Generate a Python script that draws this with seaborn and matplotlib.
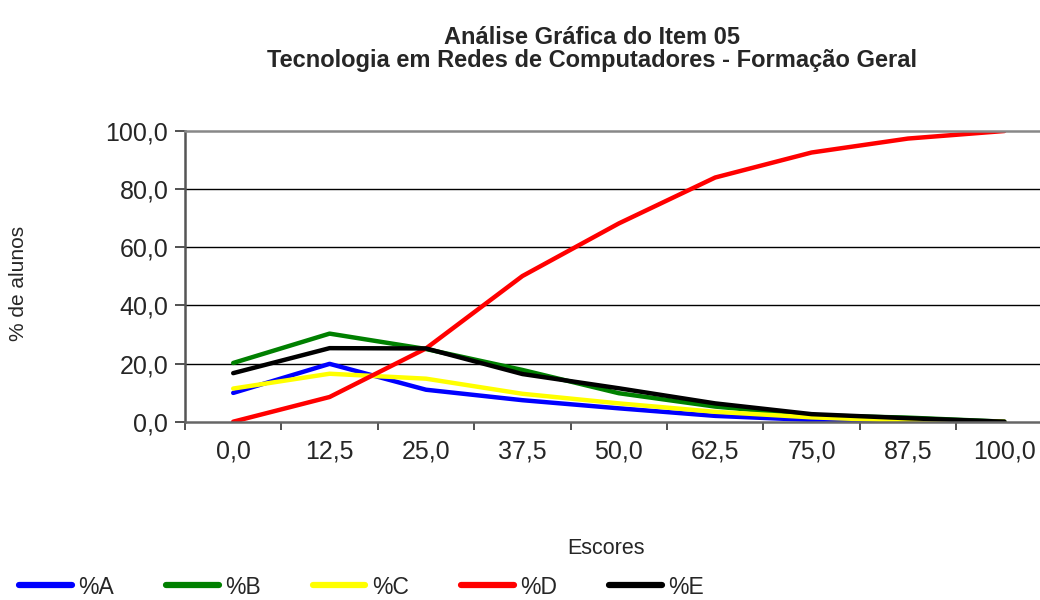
import matplotlib
matplotlib.use("Agg")
import matplotlib.pyplot as plt
import seaborn as sns
import pandas as pd
import numpy as np
from matplotlib.ticker import FixedLocator

# ---- data ----
escores = ["0,0", "12,5", "25,0", "37,5", "50,0", "62,5", "75,0", "87,5", "100,0"]
pct_A = [9.9, 19.9, 11.0, 7.4, 4.6, 2.0, 0.6, 0.0, 0.0]
pct_B = [20.2, 30.3, 25.0, 17.8, 9.8, 5.2, 2.2, 1.4, 0.0]
pct_C = [11.4, 16.5, 14.8, 9.6, 6.3, 3.4, 1.5, 0.3, 0.0]
pct_D = [0.0, 8.5, 25.2, 50.1, 68.2, 84.0, 92.6, 97.4, 100.0]
pct_E = [16.7, 25.3, 25.2, 16.4, 11.5, 6.3, 2.6, 1.2, 0.0]
series_names = ["%A", "%B", "%C", "%D", "%E"]
series_colors = ["#0000FF", "#008000", "#FFFF00", "#FF0000", "#000000"]
yticks = [0, 20, 40, 60, 80, 100]
ytick_labels = ["0,0", "20,0", "40,0", "60,0", "80,0", "100,0"]
title = "Análise Gráfica do Item 05\nTecnologia em Redes de Computadores - Formação Geral"

rows = []
for name, vals in zip(series_names, [pct_A, pct_B, pct_C, pct_D, pct_E]):
    for i, v in enumerate(vals):
        rows.append({"pos": i, "valor": v, "serie": name})
df = pd.DataFrame(rows)

sns.set_theme(style="white")
plt.rcParams["font.family"] = ["Liberation Sans", "DejaVu Sans"]

fig = plt.figure(figsize=(10.4, 6.0), dpi=100)
W, H = 1040, 600
left, right, top, bottom = 185, 1040, 131, 421.7
ax = fig.add_axes([left / W, 1 - bottom / H, (right - left) / W, (bottom - top) / H])

sns.lineplot(data=df, x="pos", y="valor", hue="serie", hue_order=series_names,
             palette=dict(zip(series_names, series_colors)), linewidth=3.2,
             ax=ax, legend=False, solid_capstyle="round", solid_joinstyle="round")

step = 96.4
ax.set_xlim(-0.5, (right - left) / step - 0.5)
ax.set_ylim(0, 100)
ax.set_xticks(range(len(escores)))
ax.set_xticklabels(escores, fontsize=18)
ax.xaxis.set_minor_locator(FixedLocator(np.arange(-0.5, len(escores), 1.0)))
ax.tick_params(axis="x", which="major", length=0, pad=13)
ax.tick_params(axis="x", which="minor", length=6, width=1.2, color="#333333", direction="out", bottom=True)
ax.set_yticks(yticks)
ax.set_yticklabels(ytick_labels, fontsize=18)
ax.tick_params(axis="y", which="major", length=7, width=1.2, color="#333333", direction="out", left=True, pad=5)
ax.set_xlabel("")
ax.set_ylabel("")

for y in yticks[1:-1]:
    ax.axhline(y, color="black", linewidth=1.0, zorder=0.5)
ax.spines["right"].set_visible(False)
ax.spines["top"].set_color("#888888")
ax.spines["top"].set_linewidth(1.8)
ax.spines["left"].set_color("#555555")
ax.spines["left"].set_linewidth(1.8)
ax.spines["bottom"].set_color("#666666")
ax.spines["bottom"].set_linewidth(1.8)

fig.text(592 / W, 1 - 26 / H, title, ha="center", va="top", fontsize=17,
         fontweight="bold", linespacing=1.0)
fig.text(19 / W, 1 - 283 / H, "% de alunos", rotation=90, ha="center", va="center", fontsize=15)
fig.text(606 / W, 1 - 548 / H, "Escores", ha="center", va="center", fontsize=15.5)

handles = [plt.Line2D([0], [0], color=c, linewidth=4.5, solid_capstyle="round") for c in series_colors]
fig.legend(handles, series_names, loc="center left", bbox_to_anchor=(19 / W, 1 - 587 / H),
           ncol=5, frameon=False, fontsize=16.5, handlelength=2.3, handletextpad=0.3,
           columnspacing=2.25, borderpad=0, borderaxespad=0)

fig.savefig("out.png", dpi=100)
